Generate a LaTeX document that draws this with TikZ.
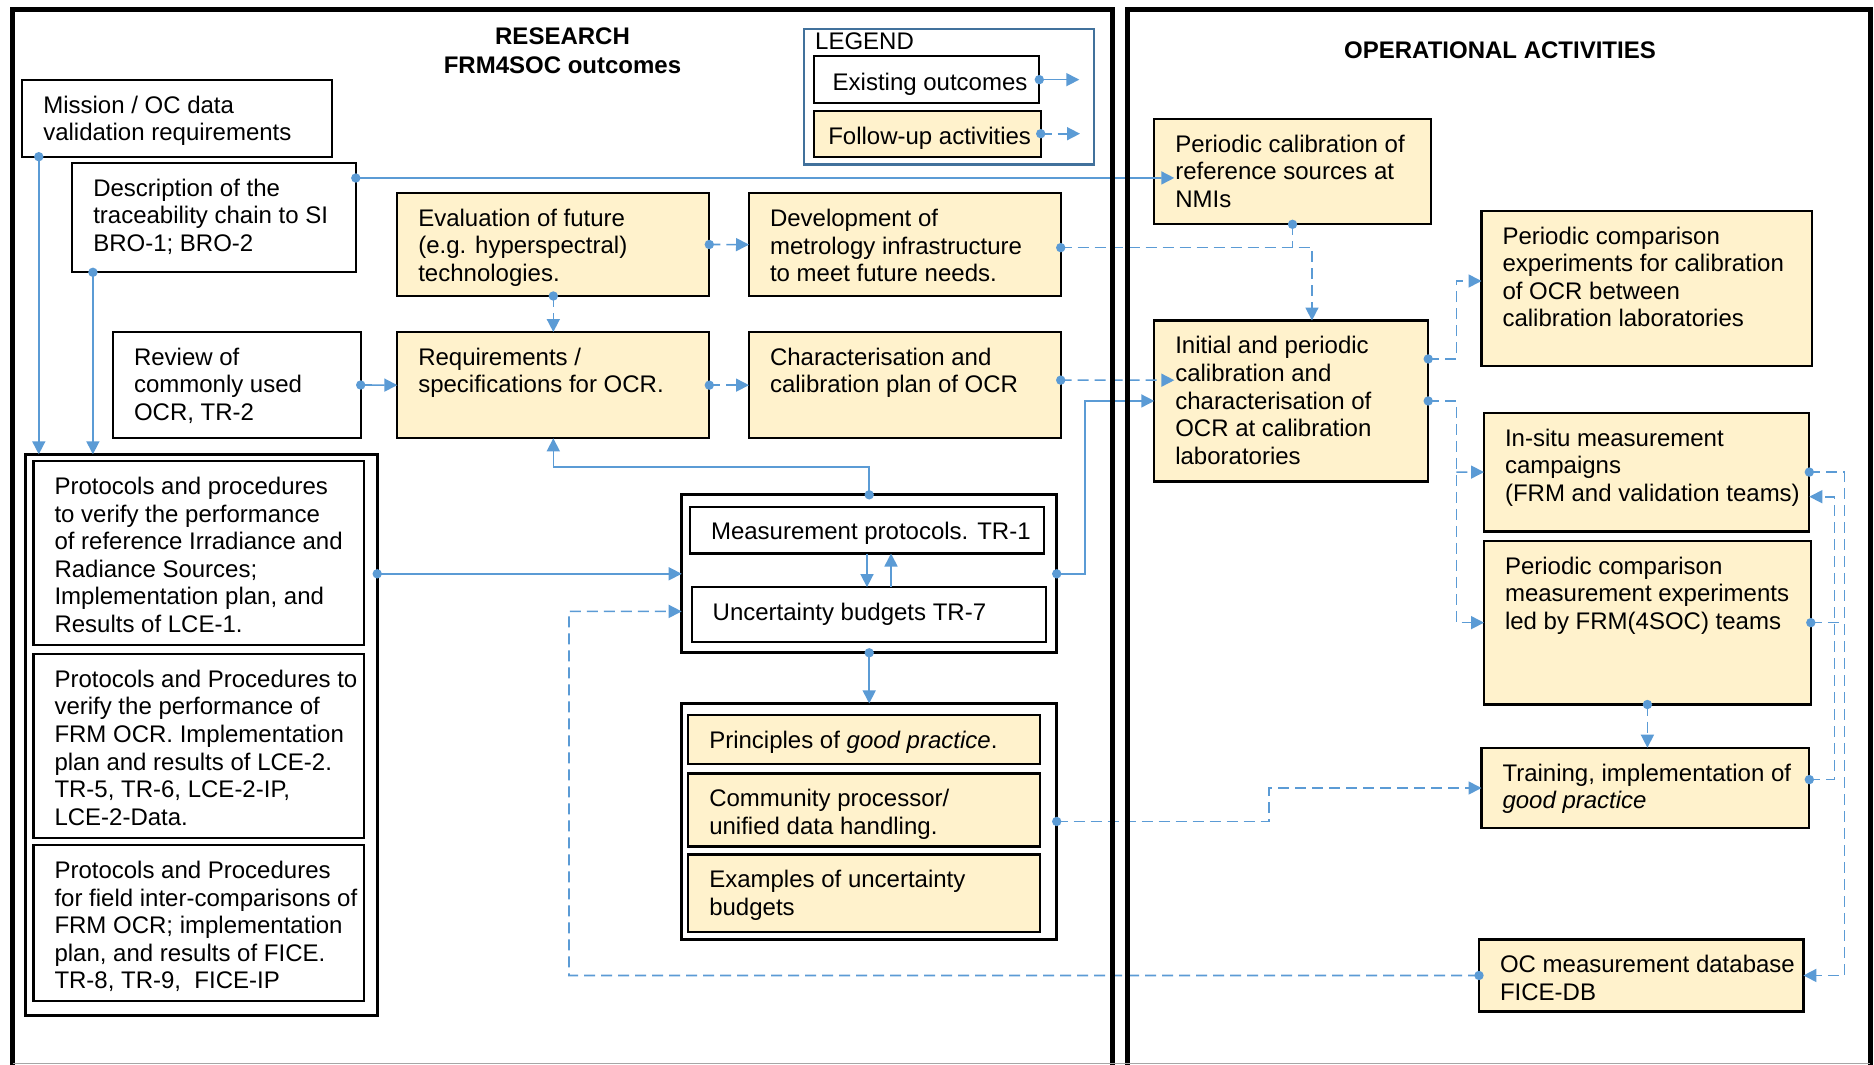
\documentclass[tikz,border=0pt]{standalone}
\usepackage{fontspec}
\setmainfont{Liberation Sans}
\usetikzlibrary{arrows.meta}
\definecolor{cblue}{HTML}{5B9BD5}
\definecolor{cream}{HTML}{FFF2CC}
\definecolor{lgblue}{HTML}{41719C}
\newcommand{\fs}{\fontsize{24}{27.6}\selectfont}
\newcommand{\bxp}[5]{\begin{minipage}[t][#2pt][t]{#1pt}\vspace*{#3pt}\leftskip=#4pt\rightskip=-200pt plus 1fil\parindent=0pt\strut #5\par\end{minipage}}
\newcommand{\bx}[3]{\bxp{#1}{#2}{14}{21}{#3}}
\newcommand{\bd}[1]{\fill[cblue] #1 circle (4.7pt);}
\begin{document}
\begin{tikzpicture}[x=1pt,y=-1pt,
  box/.style={draw=black, line width=2.2pt, inner sep=0pt, outer sep=0pt, anchor=north west, font=\fs},
  wbox/.style={box, fill=white},
  ybox/.style={box, fill=cream},
  cont/.style={draw=black, line width=3.2pt, fill=white, inner sep=0pt, outer sep=0pt, anchor=north west},
  conn/.style={draw=cblue, line width=1.6pt, -{Triangle[length=13pt,width=13pt]}},
  dconn/.style={conn, dash pattern=on 11pt off 6pt},
  panel/.style={draw=black, line width=5pt},
  ttl/.style={font=\fs\bfseries, inner sep=0pt, anchor=base}]
\useasboundingbox (0,0) rectangle (1874,1065);
\fill[white] (0,0) rectangle (1874,1065);
\clip (0,0) rectangle (1874,1065);

% titles
\node[ttl] (t1) at (562.5,44.3) {RESEARCH};
\node[ttl] (t2) at (562.5,73.3) {FRM4SOC outcomes};
\node[ttl] (t3) at (1500,59) {OPERATIONAL ACTIVITIES};

% legend
\node[draw=lgblue, line width=2.5pt, inner sep=0pt, anchor=north west, minimum width=290pt, minimum height=135.6pt] (legend) at (802.7,27.7) {};
\node[font=\fs, inner sep=0pt, anchor=base west] (legendt) at (815,50) {LEGEND};
\node[wbox] (exist) at (814,56) {\bxp{225.3}{47.3}{14.7}{18.7}{Existing outcomes}};
\node[ybox] (follow) at (814,110.7) {\bxp{226.7}{46}{14}{14.3}{Follow-up activities}};

% research boxes
\node[wbox] (mission) at (22.3,80) {\bx{309.4}{76.7}{Mission / OC data\\validation requirements}};
\node[wbox] (desc) at (72.3,162.7) {\bx{283.5}{109.6}{Description of the\\traceability chain to SI\\BRO-1; BRO-2}};
\node[ybox] (eval) at (397.3,193) {\bx{312}{103}{Evaluation of future\\(e.g. hyperspectral)\\technologies.}};
\node[ybox] (dev) at (749,193.3) {\bx{311.7}{102.7}{Development of\\metrology infrastructure\\to meet future needs.}};
\node[wbox] (review) at (113,331.7) {\bx{247.7}{106.6}{Review of\\commonly used\\OCR, TR-2}};
\node[ybox] (req) at (397.3,332) {\bx{312}{106.3}{Requirements /\\specifications for OCR.}};
\node[ybox] (char) at (749,332) {\bx{311.7}{106.3}{Characterisation and\\calibration plan of OCR}};

\node[cont, minimum width=351.8pt, minimum height=561pt] (protcont) at (25.4,454.3) {};
\node[wbox] (p1) at (33.5,461.2) {\bx{330.8}{183.5}{Protocols and procedures\\to verify the performance\\of reference Irradiance and\\Radiance Sources;\\Implementation plan, and\\Results of LCE-1.}};
\node[wbox] (p2) at (33.5,654) {\bx{330.3}{183.9}{Protocols and Procedures to\\verify the performance of\\FRM OCR. Implementation\\plan and results of LCE-2.\\TR-5, TR-6, LCE-2-IP,\\LCE-2-Data.}};
\node[wbox] (p3) at (33.5,845.1) {\bx{330.3}{155.9}{Protocols and Procedures\\for field inter-comparisons of\\FRM OCR; implementation\\plan, and results of FICE.\\TR-8, TR-9,\ \ FICE-IP}};

\node[cont, minimum width=375pt, minimum height=158pt] (meascont) at (681.7,494.8) {};
\node[wbox] (mp) at (690,507) {\bxp{354}{46.5}{12.7}{21}{Measurement protocols. TR-1}};
\node[wbox] (ub) at (691.7,587.1) {\bx{354}{54.7}{Uncertainty budgets TR-7}};

\node[cont, minimum width=375pt, minimum height=236.1pt] (gpcont) at (681.7,703.4) {};
\node[ybox] (pr) at (688.3,714.7) {\bx{351.7}{49.4}{Principles of \textit{good practice}.}};
\node[ybox] (cp) at (688.3,773.5) {\bx{351.7}{72.9}{Community processor/\\unified data handling.}};
\node[ybox] (ex) at (688.3,854.5) {\bx{351.7}{77.7}{Examples of uncertainty\\budgets}};

% operational boxes
\node[ybox] (nmi) at (1154.3,119) {\bx{276.4}{105.3}{Periodic calibration of\\reference sources at\\NMIs}};
\node[ybox] (init) at (1154.3,320.5) {\bx{273.9}{160.9}{Initial and periodic\\calibration and\\characterisation of\\OCR at calibration\\laboratories}};
\node[ybox] (comp) at (1481.5,210.7) {\bx{330.7}{155}{Periodic comparison\\experiments for calibration\\of OCR between\\calibration laboratories}};
\node[ybox] (insitu) at (1484,412.7) {\bx{325.3}{118.8}{In-situ measurement\\campaigns\\(FRM and validation teams)}};
\node[ybox] (pcm) at (1484,540.8) {\bx{326.8}{163.7}{Periodic comparison\\measurement experiments\\led by FRM(4SOC) teams}};
\node[ybox] (train) at (1481.5,747.7) {\bx{327.8}{80.6}{Training, implementation of\\\textit{good practice}}};
\node[ybox] (ocdb) at (1479,939.4) {\bx{324.4}{72.1}{OC measurement database\\FICE-DB}};

% helper coordinates
\coordinate (m1) at ([xshift=16.5pt]mission.south west);
\coordinate (d1) at ([xshift=20.6pt]desc.south west);
\coordinate (upx) at ([xshift=24pt]mp.south);

% connectors
\draw[conn] (m1) -- (m1 |- protcont.north); \bd{(m1)}
\draw[conn] (d1) -- (d1 |- protcont.north); \bd{(d1)}
\draw[conn] ([yshift=-15.3pt]desc.north east) -- ([xshift=20pt,yshift=-6.3pt]nmi.west); \bd{([yshift=-15.3pt]desc.north east)}
\draw[dconn] (eval.south) -- (req.north); \bd{(eval.south)}
\draw[dconn] (eval.east) -- (dev.west); \bd{(eval.east)}
\draw[conn] (review.east) -- (req.west); \bd{(review.east)}
\draw[dconn] (req.east) -- (char.west); \bd{(req.east)}
\draw[dconn] ([yshift=-3pt]dev.east) -| ([xshift=20.7pt]init.north); \bd{([yshift=-3pt]dev.east)}
\draw[dconn,-] (nmi.south) -- ++(0,23.4); \bd{(nmi.south)}
\draw[dconn] ([yshift=5pt]char.east) -- ([xshift=20pt,yshift=20.75pt]init.west); \bd{([yshift=5pt]char.east)}
\draw[conn] (meascont.east) -- (1085,573.8) |- (init.west); \bd{(meascont.east)}
\draw[dconn] ([yshift=42pt]init.east) -| (1456.4,281) -- ([yshift=7.2pt]comp.west); \bd{([yshift=42pt]init.east)}
\draw[dconn] (init.east) -| (1456.4,622.65) -- (pcm.west); \bd{(init.east)}
\draw[dconn] (1456.4,472.1) -- (insitu.west);
\draw[dconn] (pcm.south) -- (pcm.south |- train.north); \bd{(pcm.south)}
\draw[dconn] ([yshift=8.4pt]train.east) -| (1834.4,496.7) -- ([yshift=-24.6pt]insitu.east); \bd{([yshift=8.4pt]train.east)}
\draw[dconn] (insitu.east) -| (1844.3,975.45) -- (ocdb.east); \bd{(insitu.east)}
\draw[dconn,-] (pcm.east) -- (1844.3,622.65); \bd{(pcm.east)}
\draw[dconn] (ocdb.west) -| (569,611.4) -- ([yshift=-37.6pt]meascont.west); \bd{(ocdb.west)}
\draw[dconn] (gpcont.east) -| (1268.8,788) -- (train.west); \bd{(gpcont.east)}
\draw[conn] (meascont.north) -- ++(0,-27.8) -| (req.south); \bd{(meascont.north)}
\draw[conn] (meascont.west -| protcont.east) -- (meascont.west); \bd{(meascont.west -| protcont.east)}
\draw[conn] (mp.south) -- (mp.south |- ub.north);
\draw[conn] (upx |- ub.north) -- (upx);
\draw[conn] (meascont.south) -- (gpcont.north); \bd{(meascont.south)}
\draw[conn] (exist.east) -- ++(40,0); \bd{(exist.east)}
\draw[dconn] (follow.east) -- ++(39.3,0); \bd{(follow.east)}

% panels
\draw[panel] (12.5,1075) -- (12.5,10) -- (1112,10) -- (1112,1075);
\draw[panel] (1127,1075) -- (1127,10) -- (1870,10) -- (1870,1075);
\draw[gray!70, line width=1pt] (12.5,1063.5) -- (1870,1063.5);
\end{tikzpicture}
\end{document}
